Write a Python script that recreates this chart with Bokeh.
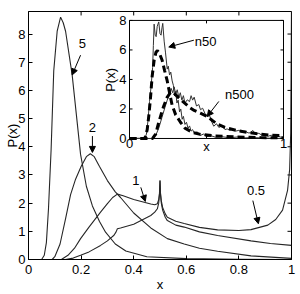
import math
from bokeh.plotting import figure
from bokeh.models import (Range1d, FixedTicker, NumeralTickFormatter,
                          Arrow, NormalHead, Title)
from bokeh.embed import file_html
from bokeh.resources import INLINE
from bokeh.core.properties import value

# ---------------- data ----------------
x_ticks = [0, 0.2, 0.4, 0.6, 0.8, 1.0]
y_ticks = [0, 1, 2, 3, 4, 5, 6, 7, 8]
inset_x_ticks = [0, 0.5, 1.0]
inset_x_labels = ["0", "", "1"]
inset_y_ticks = [0, 2, 4, 6, 8]

# main curves, labelled by parameter value
x5 = [0, 0.05, 0.06, 0.068, 0.076, 0.086, 0.096, 0.109, 0.122, 0.132, 0.141, 0.166,
      0.198, 0.22, 0.243, 0.27, 0.293, 0.33, 0.37, 0.45, 0.6, 0.8, 1.0]
y5 = [0, 0, 0.15, 0.6, 1.8, 3.9, 6.7, 8.1, 8.6, 8.4, 8.1, 6.55,
      3.73, 2.6, 1.9, 1.35, 0.97, 0.55, 0.3, 0.1, 0.03, 0.01, 0.0]

x2 = [0, 0.09, 0.1, 0.12, 0.141, 0.16, 0.179, 0.2, 0.22, 0.235, 0.25, 0.27,
      0.3, 0.33, 0.35, 0.4, 0.465, 0.528, 0.592, 0.65, 0.719, 0.846, 1.0]
y2 = [0, 0, 0.1, 0.55, 1.45, 2.3, 2.85, 3.3, 3.65, 3.75, 3.65, 3.3,
      2.8, 2.4, 2.2, 1.65, 1.12, 0.74, 0.55, 0.4, 0.29, 0.13, 0.04]

x1 = [0, 0.125, 0.15, 0.175, 0.198, 0.23, 0.274, 0.3, 0.32, 0.338, 0.36, 0.4,
      0.465, 0.48, 0.49, 0.495, 0.498, 0.5, 0.502, 0.505, 0.51, 0.52, 0.528,
      0.56, 0.592, 0.65, 0.719, 0.846, 0.92, 1.0]
y1 = [0, 0, 0.15, 0.4, 0.74, 1.15, 1.68, 1.98, 2.2, 2.32, 2.26, 2.13,
      1.97, 1.94, 1.98, 2.12, 2.35, 2.8, 2.3, 2.0, 1.75, 1.5, 1.38,
      1.22, 1.15, 0.98, 0.85, 0.66, 0.57, 0.5]

x05 = [0, 0.14, 0.17, 0.198, 0.23, 0.274, 0.3, 0.325, 0.333, 0.338, 0.35, 0.4,
       0.465, 0.48, 0.49, 0.495, 0.498, 0.5, 0.502, 0.505, 0.51, 0.52, 0.528,
       0.56, 0.592, 0.65, 0.719, 0.8, 0.846, 0.91, 0.94, 0.966, 0.985, 0.993,
       0.997, 1.0]
y05 = [0, 0, 0.05, 0.15, 0.27, 0.5, 0.66, 0.86, 0.98, 1.09, 1.12, 1.25,
       1.56, 1.68, 1.8, 2.0, 2.3, 2.8, 2.35, 2.08, 1.85, 1.62, 1.5,
       1.36, 1.28, 1.14, 1.05, 1.03, 1.06, 1.22, 1.42, 1.75, 2.45, 3.2,
       4.5, 9.0]

# inset: smooth (dashed) and sampled (solid) distributions
xd50 = [0, 0.1, 0.115, 0.125, 0.136, 0.147, 0.16, 0.172, 0.182, 0.195, 0.212, 0.228,
        0.245, 0.262, 0.277, 0.3, 0.331, 0.36, 0.407, 0.46, 0.55, 0.7, 0.85, 1.0]
yd50 = [0, 0, 0.6, 1.5, 2.7, 4.2, 5.3, 5.85, 5.95, 5.75, 5.3, 4.6,
        3.9, 3.0, 2.25, 1.6, 1.1, 0.7, 0.42, 0.28, 0.18, 0.1, 0.06, 0.04]

xd500 = [0, 0.15, 0.17, 0.19, 0.21, 0.223, 0.245, 0.266, 0.283, 0.3, 0.32, 0.353,
         0.39, 0.42, 0.46, 0.504, 0.54, 0.569, 0.62, 0.699, 0.77, 0.85, 0.92, 1.0]
yd500 = [0, 0, 0.3, 1.1, 1.8, 2.22, 2.8, 3.1, 3.15, 2.95, 2.75, 2.45,
         2.1, 1.9, 1.72, 1.5, 1.2, 0.98, 0.75, 0.53, 0.4, 0.3, 0.22, 0.18]

xs50 = [0, 0.1, 0.11, 0.12, 0.13, 0.14, 0.15, 0.155, 0.16, 0.167,
        0.173, 0.18, 0.19, 0.198, 0.205, 0.211, 0.216, 0.225, 0.234, 0.245,
        0.252, 0.26, 0.268, 0.277, 0.285, 0.293, 0.3, 0.308, 0.316, 0.325,
        0.333, 0.342, 0.35, 0.36, 0.37, 0.38, 0.39, 0.4, 0.41, 0.42,
        0.44, 0.46, 0.48, 0.5, 0.53, 0.56, 0.6, 0.65, 0.7, 0.75,
        0.8, 0.9, 1.0]
ys50 = [0, 0.02, 0.3, 1.2, 2.5, 3.5, 4.8, 6.3, 7.75, 7.0,
        6.9, 7.6, 7.9, 7.1, 7.0, 7.5, 7.8, 6.6, 5.8, 4.7,
        4.9, 4.3, 4.5, 3.9, 3.6, 2.9, 3.2, 2.4, 2.6, 1.8,
        2.0, 1.3, 1.5, 0.95, 1.1, 0.7, 0.85, 0.5, 0.6, 0.35,
        0.45, 0.2, 0.3, 0.12, 0.18, 0.08, 0.12, 0.05, 0.1, 0.04,
        0.06, 0.02, 0.0]

xs500 = [0, 0.15, 0.17, 0.19, 0.21, 0.23, 0.245, 0.26, 0.27, 0.28,
         0.29, 0.3, 0.31, 0.32, 0.33, 0.34, 0.35, 0.36, 0.375, 0.39,
         0.4, 0.41, 0.42, 0.435, 0.45, 0.461, 0.475, 0.49, 0.504, 0.52,
         0.535, 0.547, 0.565, 0.58, 0.6, 0.62, 0.634, 0.65, 0.67, 0.69,
         0.71, 0.73, 0.75, 0.77, 0.786, 0.8, 0.82, 0.84, 0.86, 0.88,
         0.9, 0.92, 0.94, 0.96, 0.98, 1.0]
ys500 = [0, 0, 0.2, 0.7, 1.4, 2.1, 2.6, 3.0, 3.4, 3.1,
         3.5, 3.0, 3.3, 2.8, 3.1, 2.6, 2.9, 2.4, 2.62, 2.5,
         2.9, 2.6, 2.8, 2.2, 2.3, 1.95, 2.05, 1.7, 1.48, 1.55,
         1.1, 0.83, 1.0, 0.75, 0.85, 0.6, 0.65, 0.55, 0.62, 0.5,
         0.55, 0.42, 0.5, 0.38, 0.38, 0.55, 0.3, 0.35, 0.22, 0.28,
         0.15, 0.22, 0.12, 0.18, 0.1, 0.08]

# ---------------- figure ----------------
FONT = "Liberation Sans"
FS = "13px"
LINE = "#262626"

W, H = 300, 294
ML, MR, MT, MB = 28, 9, 11, 33
FW, FH = W - ML - MR, H - MT - MB

X0, X1, Y0, Y1 = 0.0, 1.0, 0.0, 8.8

p = figure(width=W, height=H, x_range=Range1d(X0, X1), y_range=Range1d(Y0, Y1),
           output_backend="svg", toolbar_location=None,
           min_border_left=ML, min_border_right=MR,
           min_border_top=MT, min_border_bottom=MB)
p.grid.visible = False
p.outline_line_color = "black"
p.outline_line_width = 1
p.background_fill_color = "white"
p.border_fill_color = "white"

for ax in (p.xaxis[0], p.yaxis[0]):
    ax.major_tick_in = 4
    ax.major_tick_out = 0
    ax.minor_tick_line_color = None
    ax.axis_line_color = "black"
    ax.major_tick_line_color = "black"
    ax.major_label_text_font = FONT
    ax.major_label_text_font_size = FS
    ax.major_label_text_color = "black"
    ax.major_label_text_line_height = 1.0
    ax.axis_label_text_font = FONT
    ax.axis_label_text_font_size = FS
    ax.axis_label_text_font_style = "normal"
    ax.axis_label_text_color = "black"
    ax.axis_label_text_line_height = 1.0
    ax.axis_label_standoff = 0
p.xaxis.ticker = FixedTicker(ticks=x_ticks)
p.xaxis.formatter = NumeralTickFormatter(format="0.[0]")
p.xaxis.major_label_standoff = 5
p.xaxis.axis_label = "x"
p.yaxis.ticker = FixedTicker(ticks=y_ticks)
p.yaxis.major_label_standoff = 3

# y-axis title as a side title (outside the tick labels)
p.add_layout(Title(text="P(x)", align="center", text_font=FONT, text_font_size=FS,
                   text_font_style="normal", text_color="black", standoff=-8,
                   offset=0, text_line_height=1.0), "left")

# mirrored ticks on top and right
tl_y = 4 * (Y1 - Y0) / FH
tl_x = 4 * (X1 - X0) / FW
p.segment(x0=x_ticks, y0=[Y1] * len(x_ticks), x1=x_ticks, y1=[Y1 - tl_y] * len(x_ticks),
          line_color="black", line_width=1)
p.segment(x0=[X1] * len(y_ticks), y0=y_ticks, x1=[X1 - tl_x] * len(y_ticks), y1=y_ticks,
          line_color="black", line_width=1)

# main curves
for xs, ys in ((x5, y5), (x2, y2), (x1, y1), (x05, y05)):
    p.line(xs, ys, line_color=LINE, line_width=1.1)

# curve annotations
p.text(x=[0.205, 0.243, 0.408, 0.865], y=[7.67, 4.67, 2.79, 2.44],
       text=["5", "2", "1", "0.5"], text_font=value(FONT), text_font_size=FS,
       text_align="center", text_baseline="middle", text_color="black")
for (xa, ya, xb, yb) in ((0.198, 7.25, 0.166, 6.55), (0.243, 4.38, 0.243, 3.8),
                         (0.427, 2.56, 0.444, 2.06), (0.853, 2.09, 0.874, 1.27)):
    p.add_layout(Arrow(end=NormalHead(size=6, fill_color="black", line_color="black"),
                       x_start=xa, y_start=ya, x_end=xb, y_end=yb,
                       line_color="black", line_width=1))

# ---------------- inset (own ranges) ----------------
IX0, IX1, IY0, IY1 = 0.0, 1.0, 0.0, 8.0
fl, fr, ft, fb = ML, W - MR, MT, H - MB   # main frame in canvas pixels
il, ir, it, ib = 129, 283, 20, 139        # inset frame in canvas pixels
sx = (IX1 - IX0) / (ir - il)
sy = (IY1 - IY0) / (ib - it)
p.extra_x_ranges = {"in": Range1d(IX0 - (il - fl) * sx, IX1 + (fr - ir) * sx)}
p.extra_y_ranges = {"in": Range1d(IY0 - (fb - ib) * sy, IY1 + (it - ft) * sy)}
kw = dict(x_range_name="in", y_range_name="in")

p.quad(left=[IX0], right=[IX1], bottom=[IY0], top=[IY1], fill_color="white",
       line_color="black", line_width=1, **kw)

p.line(xs50, ys50, line_color="#333333", line_width=1, **kw)
p.line(xs500, ys500, line_color="#333333", line_width=1, **kw)
p.line(xd50, yd50, line_color="black", line_width=3, line_dash="7 4", **kw)
p.line(xd500, yd500, line_color="black", line_width=3, line_dash="7 4", **kw)

# inset ticks (inward, mirrored)
itx = 3 * sx
ity = 3 * sy
p.segment(x0=[IX0] * 5, y0=inset_y_ticks, x1=[IX0 + itx] * 5, y1=inset_y_ticks,
          line_color="black", **kw)
p.segment(x0=[IX1] * 5, y0=inset_y_ticks, x1=[IX1 - itx] * 5, y1=inset_y_ticks,
          line_color="black", **kw)
p.segment(x0=inset_x_ticks, y0=[IY0] * 3, x1=inset_x_ticks, y1=[IY0 + ity] * 3,
          line_color="black", **kw)
p.segment(x0=inset_x_ticks, y0=[IY1] * 3, x1=inset_x_ticks, y1=[IY1 - ity] * 3,
          line_color="black", **kw)

p.text(x=[IX0] * 5, y=inset_y_ticks, text=[str(v) for v in inset_y_ticks],
       x_offset=-3, text_font=value(FONT), text_font_size=FS,
       text_align="right", text_baseline="middle", text_color="black", **kw)
p.text(x=inset_x_ticks, y=[IY0] * 3, text=inset_x_labels, y_offset=1,
       text_font=value(FONT), text_font_size=FS,
       text_align="center", text_baseline="top", text_color="black", **kw)
p.text(x=[0.5], y=[IY0], text=["x"], y_offset=8,
       text_font=value(FONT), text_font_size=FS,
       text_align="center", text_baseline="middle", text_color="black", **kw)
p.text(x=[IX0 - 19 * sx], y=[(ib - 80) * sy], text=["P(x)"], angle=math.pi / 2,
       text_font=value(FONT), text_font_size=FS,
       text_align="center", text_baseline="middle", text_color="black", **kw)

p.text(x=[0.494, 0.714], y=[6.54, 2.96], text=["n50", "n500"],
       text_font=value(FONT), text_font_size=FS,
       text_align="center", text_baseline="middle", text_color="black", **kw)
for (xa, ya, xb, yb) in ((0.418, 6.66, 0.255, 6.2), (0.58, 2.51, 0.505, 1.5)):
    p.add_layout(Arrow(end=NormalHead(size=6, fill_color="black", line_color="black"),
                       x_start=xa, y_start=ya, x_end=xb, y_end=yb,
                       line_color="black", line_width=1, **kw))

open("out.html", "w").write(file_html(p, INLINE))
